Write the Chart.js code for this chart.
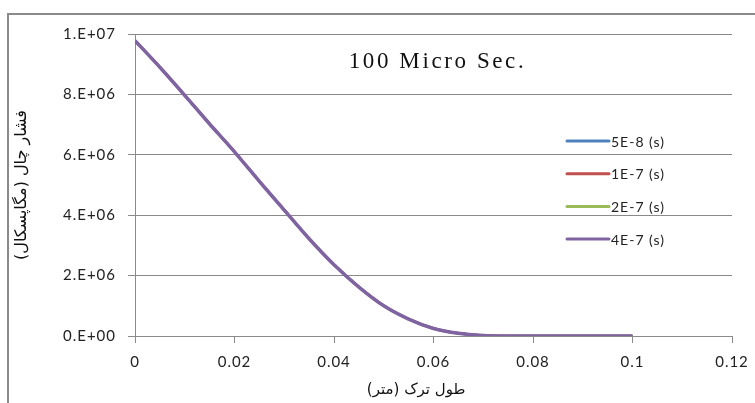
<!DOCTYPE html>
<html>
<head>
<meta charset="utf-8">
<script src="https://cdn.jsdelivr.net/npm/chart.js@4.4.0/dist/chart.umd.min.js"></script>
<style>
  body { margin: 0; background: #fff; }
  #chart1 { display: block; }
</style>
</head>
<body>
<canvas id="chart1" width="755" height="403"></canvas>
<script>
// data
const crackLength = [0, 0.005, 0.01, 0.015, 0.02, 0.025, 0.03, 0.035, 0.04, 0.045, 0.05, 0.055, 0.06, 0.065, 0.07, 0.075, 0.08, 0.085, 0.09, 0.095, 0.1];
const p5e8 = [9.78e6, 8.9e6, 7.97e6, 7.02e6, 6.1e6, 5.12e6, 4.17e6, 3.22e6, 2.36e6, 1.62e6, 1.0e6, 0.56e6, 0.25e6, 0.09e6, 0.02e6, 0, 0, 0, 0, 0, 0];
const p1e7 = [9.78e6, 8.9e6, 7.97e6, 7.02e6, 6.1e6, 5.12e6, 4.17e6, 3.22e6, 2.36e6, 1.62e6, 1.0e6, 0.56e6, 0.25e6, 0.09e6, 0.02e6, 0, 0, 0, 0, 0, 0];
const p2e7 = [9.78e6, 8.9e6, 7.97e6, 7.02e6, 6.1e6, 5.12e6, 4.17e6, 3.22e6, 2.36e6, 1.62e6, 1.0e6, 0.56e6, 0.25e6, 0.09e6, 0.02e6, 0, 0, 0, 0, 0, 0];
const p4e7 = [9.78e6, 8.9e6, 7.97e6, 7.02e6, 6.1e6, 5.12e6, 4.17e6, 3.22e6, 2.36e6, 1.62e6, 1.0e6, 0.56e6, 0.25e6, 0.09e6, 0.02e6, 0, 0, 0, 0, 0, 0];
const seriesNames = ['5E-8 (s)', '1E-7 (s)', '2E-7 (s)', '4E-7 (s)'];
const xTickLabels = ['0', '0.02', '0.04', '0.06', '0.08', '0.1', '0.12'];
const yTickLabels = ['0.E+00', '2.E+06', '4.E+06', '6.E+06', '8.E+06', '1.E+07'];

const toPoints = (ys) => crackLength.map((x, i) => ({ x: x, y: ys[i] }));

// the reference text is stretched wide, so space the letters a bit
const spacing = {
    id: 'spacing',
    beforeUpdate(chart) { chart.ctx.letterSpacing = '1px'; },
    beforeDraw(chart) { chart.ctx.letterSpacing = '1px'; },
};

// frame, title text, legend and axis titles drawn on the canvas
const extras = {
    id: 'extras',
    beforeDraw(chart) {
        const ctx = chart.ctx;
        ctx.save();
        ctx.strokeStyle = '#8a8a8a';
        ctx.lineWidth = 2;
        ctx.beginPath();
        ctx.moveTo(8, 403);
        ctx.lineTo(8, 14);
        ctx.lineTo(755, 14);
        ctx.stroke();
        ctx.restore();
    },
    afterDraw(chart) {
        const ctx = chart.ctx;
        const xs = chart.scales.x, ys = chart.scales.y;
        ctx.save();
        ctx.fillStyle = '#111';
        ctx.textAlign = 'center';
        ctx.textBaseline = 'middle';
        ctx.font = '23px "Liberation Serif"';
        ctx.letterSpacing = '2.6px';
        ctx.fillText('100 Micro Sec.', xs.getPixelForValue(0.0608), ys.getPixelForValue(9.08e6));

        ctx.letterSpacing = '0px';
        ctx.font = '15px "DejaVu Sans"';
        ctx.fillText('طول ترک (متر)', xs.getPixelForValue(0.0565), 390);

        ctx.save();
        ctx.translate(22, (ys.top + ys.bottom) / 2);
        ctx.rotate(-Math.PI / 2);
        ctx.font = '16px "DejaVu Sans"';
        ctx.fillText('فشار چال (مگاپسکال)', 0, 0);
        ctx.restore();

        ctx.font = '14px Lato';
        ctx.letterSpacing = '1px';
        ctx.textAlign = 'left';
        chart.data.datasets.forEach((ds, i) => {
            const y = 141 + i * 32.7;
            ctx.strokeStyle = ds.borderColor;
            ctx.lineWidth = 3;
            ctx.lineCap = 'round';
            ctx.beginPath();
            ctx.moveTo(567, y);
            ctx.lineTo(609, y);
            ctx.stroke();
            ctx.fillStyle = '#222';
            ctx.fillText(ds.label, 611, y + 1);
        });
        ctx.restore();
    }
};

const chart1 = new Chart(document.querySelector('#chart1'), {
    type: 'line',
    data: {
        datasets: [
            { label: seriesNames[0], data: toPoints(p5e8), borderColor: '#4F81BD', borderWidth: 2.5, order: 4 },
            { label: seriesNames[1], data: toPoints(p1e7), borderColor: '#C0504D', borderWidth: 2.5, order: 3 },
            { label: seriesNames[2], data: toPoints(p2e7), borderColor: '#9BBB59', borderWidth: 2.5, order: 2 },
            { label: seriesNames[3], data: toPoints(p4e7), borderColor: '#8064A2', borderWidth: 3.5, order: 1 },
        ]
    },
    options: {
        responsive: false,
        animation: false,
        elements: {
            point: { radius: 0 },
            line: { tension: 0.2, fill: false }
        },
        layout: {
            padding: { top: 34, right: 23, left: 0, bottom: 0 }
        },
        scales: {
            x: {
                type: 'linear',
                min: 0,
                max: 0.12,
                ticks: {
                    stepSize: 0.02,
                    color: '#222',
                    padding: 10,
                    maxRotation: 0,
                    font: { family: 'Lato', size: 15 },
                    callback: (v, i) => xTickLabels[i],
                },
                grid: {
                    drawOnChartArea: false,
                    color: '#8a8a8a',
                    tickLength: 7,
                },
                border: { color: '#8a8a8a' },
                afterFit: (scale) => {
                    scale.height = 67;
                    scale.paddingLeft = 0;
                    scale.paddingRight = 0;
                },
            },
            y: {
                min: 0,
                max: 1e7,
                ticks: {
                    stepSize: 2e6,
                    color: '#222',
                    padding: 12,
                    font: { family: 'Lato', size: 15 },
                    callback: (v, i) => yTickLabels[i],
                },
                grid: {
                    color: '#8a8a8a',
                    tickLength: 7,
                },
                border: { color: '#8a8a8a' },
                afterFit: (scale) => {
                    scale.width = 135;
                    scale.paddingTop = 0;
                    scale.paddingBottom = 0;
                },
            }
        },
        plugins: {
            legend: { display: false },
            tooltip: { enabled: false },
        }
    },
    plugins: [spacing, extras],
});
</script>
</body>
</html>
